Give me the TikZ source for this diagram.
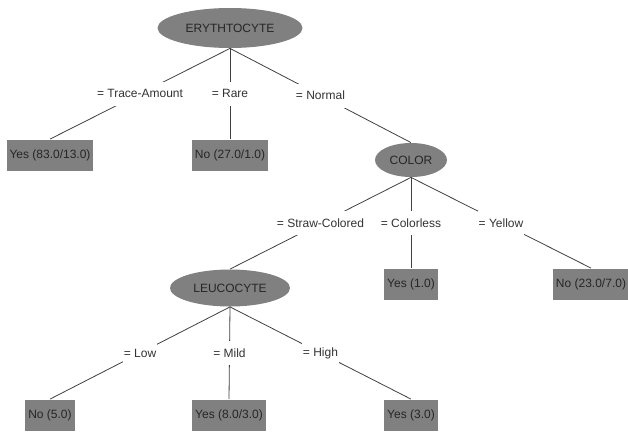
\documentclass[tikz,border=0pt]{standalone}
\usepackage{fontspec}
\setmainfont{Liberation Sans}
\usetikzlibrary{shapes.geometric}
\begin{document}
\begin{tikzpicture}[x=1pt,y=-1pt,line width=.8pt,font=\fontsize{12}{14}\selectfont,
	attr/.style={ellipse,fill=black!50,text=black!85,inner sep=0pt},
	leaf/.style={rectangle,fill=black!50,text=black!85,inner xsep=3pt,minimum height=31pt},
	lbl/.style={fill=white,text=black!80,inner xsep=1pt,minimum height=24pt},
	link/.style={draw=black!75}]
	\useasboundingbox (0,0) rectangle (628,434);
	% nodes
	\node[attr,minimum width=145pt,minimum height=40pt] (ery) at (230,28) {ERYTHTOCYTE};
	\node[leaf] (yes1) at (50,155) {Yes (83.0/13.0)};
	\node[leaf] (no1) at (230,155) {No (27.0/1.0)};
	\node[attr,minimum width=72pt,minimum height=34pt] (color) at (411,160) {COLOR};
	\node[attr,minimum width=120pt,minimum height=37pt] (leu) at (230,288) {LEUCOCYTE};
	\node[leaf] (yes2) at (411,284) {Yes (1.0)};
	\node[leaf] (no2) at (591,284) {No (23.0/7.0)};
	\node[leaf] (no3) at (50,415) {No (5.0)};
	\node[leaf] (yes3) at (229,415) {Yes (8.0/3.0)};
	\node[leaf] (yes4) at (411,415) {Yes (3.0)};
	% edges
	\draw[link] (ery.south)--(yes1.north) node[lbl,midway] {= Trace-Amount};
	\draw[link] (ery.south)--(no1.north) node[lbl,midway] {= Rare};
	\draw[link] (ery.south)--(color.north) node[lbl,midway] {= Normal};
	\draw[link] (color.south)--(leu.north) node[lbl,midway] {= Straw-Colored};
	\draw[link] (color.south)--(yes2.north) node[lbl,midway] {= Colorless};
	\draw[link] (color.south)--(no2.north) node[lbl,midway] {= Yellow};
	\draw[link] (leu.south)--(no3.north) node[lbl,midway] {= Low};
	\draw[link] (leu.south)--(yes3.north) node[lbl,midway] {= Mild};
	\draw[link] (leu.south)--(yes4.north) node[lbl,midway] {= High};
\end{tikzpicture}
\end{document}
